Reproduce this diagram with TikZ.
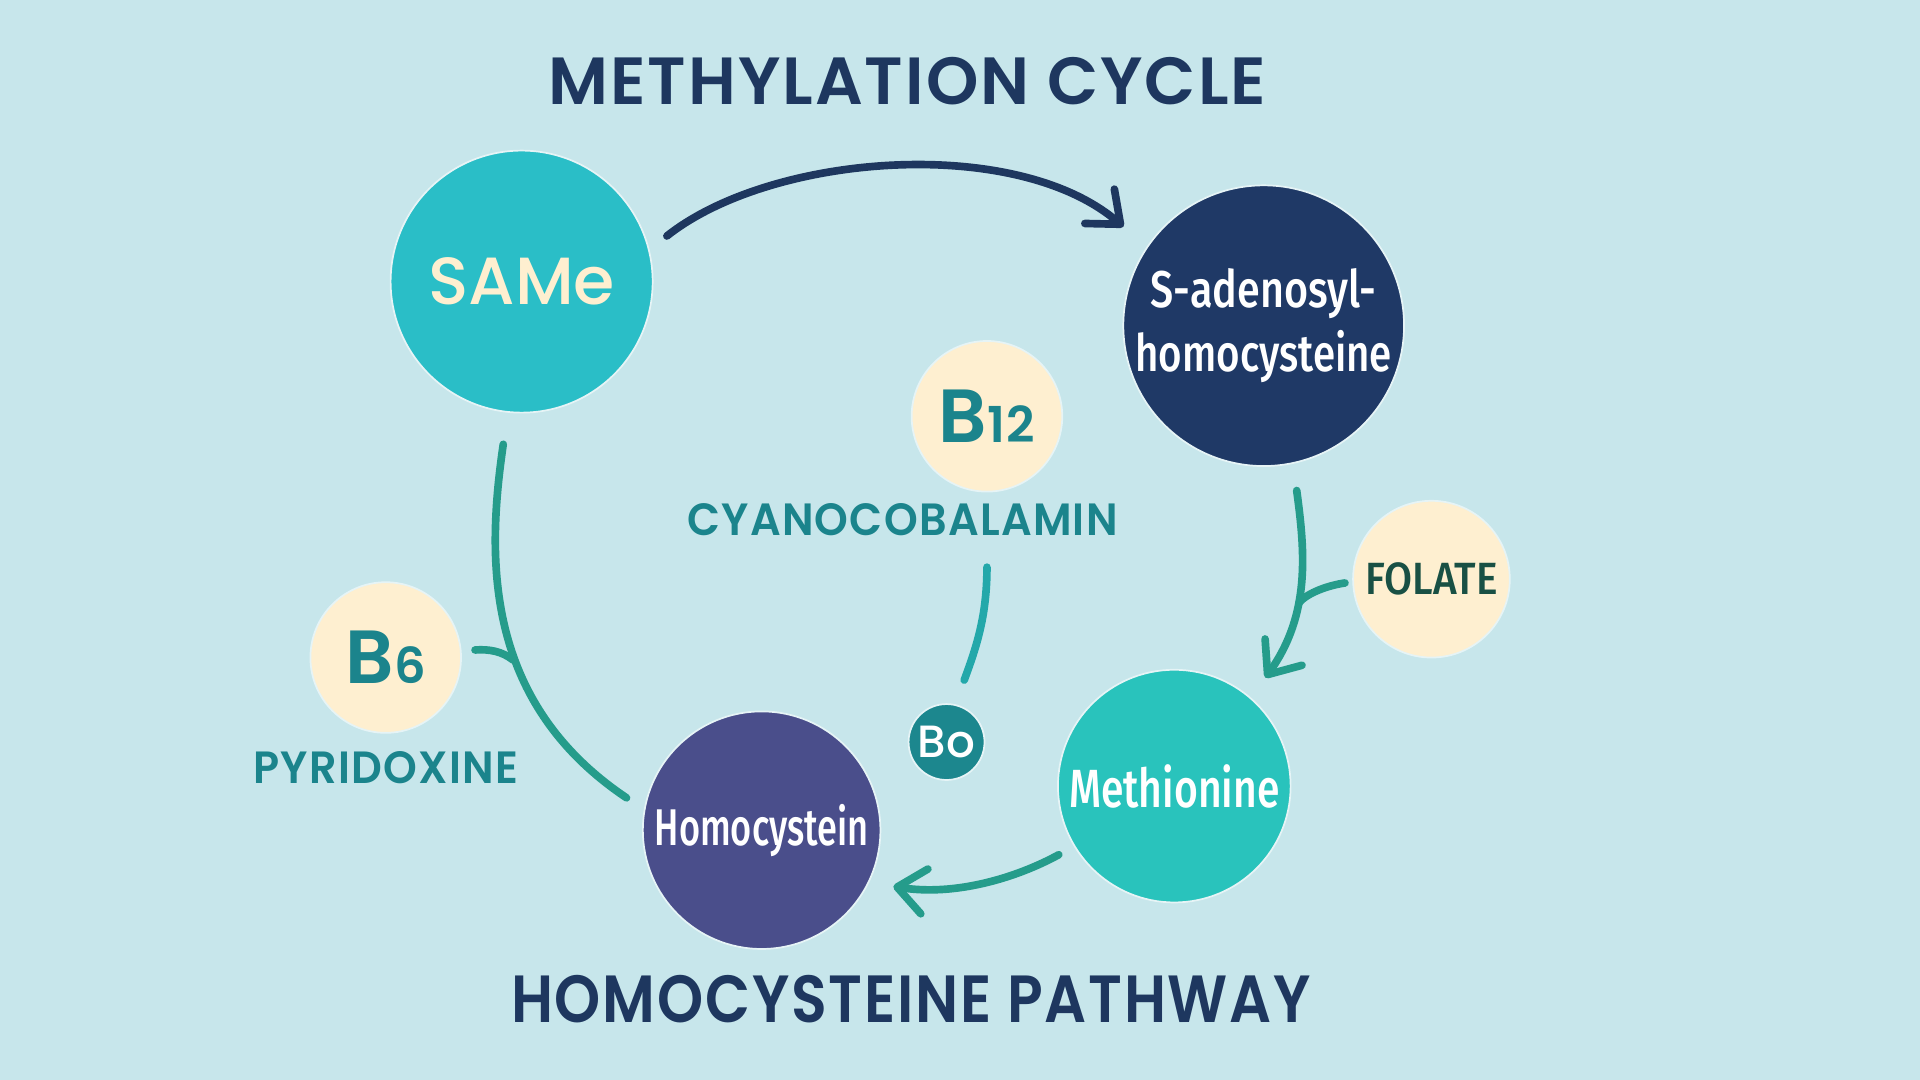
\documentclass[tikz,border=0pt]{standalone}
\usepackage{fontspec}
\usepackage{graphicx}
\setmainfont{Poppins}
\newfontfamily\titlefont[LetterSpace=3]{Poppins SemiBold}
\newfontfamily\midfont{Poppins Medium}
\newfontfamily\namefont{Fira Sans Medium}
\usetikzlibrary{arrows.meta}

\definecolor{bgblue}{RGB}{199,230,235}
\definecolor{navy}{RGB}{30,55,95}
\definecolor{sahnavy}{RGB}{31,57,102}
\definecolor{samteal}{RGB}{42,190,199}
\definecolor{methteal}{RGB}{41,195,188}
\definecolor{homopurple}{RGB}{74,78,139}
\definecolor{cream}{RGB}{254,239,208}
\definecolor{labelteal}{RGB}{27,132,140}
\definecolor{flowgreen}{RGB}{37,156,139}
\definecolor{bocyan}{RGB}{35,168,170}
\definecolor{boteal}{RGB}{28,135,142}
\definecolor{folategreen}{RGB}{25,80,68}

\tikzset{
  heading/.style={text=navy, font=\titlefont\fontsize{31}{34}\selectfont},
  bubble/.style={circle, draw=white!55!bgblue, line width=0.8pt, inner sep=0pt},
  vitamin/.style={bubble, fill=cream, minimum size=24.6mm},
  vitlabel/.style={text=labelteal, font=\titlefont\fontsize{21}{24}\selectfont},
  flowline/.style={line width=1.25mm, line cap=round, draw=flowgreen},
  chevron/.style={-{Straight Barb[length=4.5mm,width=7.4mm,round]}},
}

\begin{document}
\begin{tikzpicture}[x=0.2mm,y=0.2mm]
  % Draw the background
  \fill[bgblue] (0,0) rectangle (1568,882);
  \useasboundingbox (0,0) rectangle (1568,882);

  % Titles
  \node[heading] (toptitle) at (741,816) {METHYLATION CYCLE};
  \node[heading] (bottomtitle) at (744,66) {\scalebox{0.88}[1]{HOMOCYSTEINE PATHWAY}};

  % Draw the metabolites
  \node[bubble, fill=samteal, minimum size=42.8mm, text=cream,
        font=\midfont\fontsize{31}{36}\selectfont] (same) at (426,652) {SAMe};
  \node[bubble, fill=sahnavy, minimum size=44mm, text=white, align=center,
        font=\namefont\fontsize{24}{30}\selectfont] (sah) at (1032,616)
        {\scalebox{0.8}[1]{S-adenosyl-}\\\scalebox{0.78}[1]{homocysteine}};
  \node[bubble, fill=methteal, minimum size=38mm, text=white,
        font=\namefont\fontsize{25}{30}\selectfont] (meth) at (959,240)
        {\scalebox{0.76}[1]{Methionine}};
  \node[bubble, fill=homopurple, minimum size=38.8mm, text=white,
        font=\namefont\fontsize{24}{30}\selectfont] (homo) at (622,204)
        {\scalebox{0.7}[1]{Homocystein}};

  % Draw the vitamins
  \node[vitamin, text=labelteal] (b12) at (806,542)
        {{\titlefont\fontsize{35}{36}\selectfont B}{\titlefont\fontsize{23}{24}\selectfont 12}};
  \node[vitlabel] (cyano) at (737,458) {\scalebox{0.95}[1]{CYANOCOBALAMIN}};
  \node[vitamin, text=labelteal] (b6) at (315,345)
        {{\titlefont\fontsize{35}{36}\selectfont B}{\titlefont\fontsize{23}{24}\selectfont 6}};
  \node[vitlabel] (pyrid) at (315,255) {\scalebox{0.95}[1]{PYRIDOXINE}};
  \node[vitamin, minimum size=25.6mm, text=folategreen,
        font=\namefont\fontsize{21}{24}\selectfont] (folate) at (1169,409)
        {\scalebox{0.9}[1]{FOLATE}};
  \node[bubble, fill=boteal, minimum size=12.4mm, text=white,
        font=\midfont\fontsize{21}{24}\selectfont] (bo) at (773,276) {Bo};

  % Join points of the side branches
  \coordinate (b6join) at (419,343);
  \coordinate (folatejoin) at (1061,390);

  % Draw the connectors
  \draw[navy, line width=1.25mm, line cap=round, chevron, shorten <=3.6mm, shorten >=5mm]
    (same.14) .. controls (630,757) and (830,772) .. (sah.146);
  \draw[flowline, shorten <=5.2mm, shorten >=3.4mm]
    (same.264) .. controls (398,430) and (393,310) .. (homo.170);
  \draw[flowline, shorten <=2.2mm]
    (b6.5) .. controls (400,352) and (410,350) .. (b6join);
  \draw[flowline, chevron, shorten <=4.4mm, shorten >=4mm]
    (sah.282) .. controls (1066,430) and (1070,380) .. (meth.49);
  \draw[flowline, shorten <=1.2mm]
    (folate.182) .. controls (1085,404) and (1068,398) .. (folatejoin);
  \draw[flowline, chevron, shorten <=2.8mm, shorten >=4mm]
    (meth.211) .. controls (830,165) and (780,150) .. (homo.334);
  \draw[bocyan, line width=1.25mm, line cap=round, shorten <=12.2mm, shorten >=4.2mm]
    (b12.south) .. controls (806,380) and (798,355) .. (bo.77);
\end{tikzpicture}
\end{document}
